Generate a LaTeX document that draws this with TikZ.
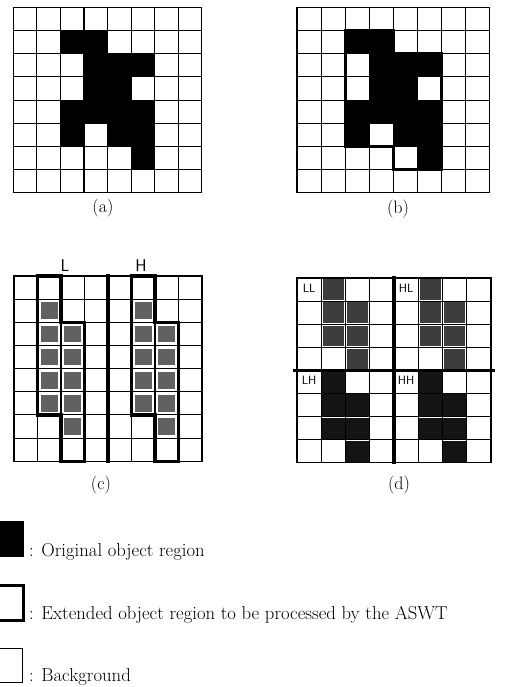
\documentclass[tikz,border=0pt]{standalone}
\usepackage{fontspec}
\begin{document}
\begin{tikzpicture}[x=1pt,y=-1pt,
  gridline/.style={line width=1.1pt, line cap=rect},
  thickline/.style={line width=3.2pt, line join=miter, line cap=rect},
  objcell/.style={fill=black},
  lowcell/.style={fill=black!62},
  midcell/.style={fill=black!76},
  darkcell/.style={fill=black!92},
  caption/.style={font=\fontsize{18}{21}\selectfont, inner sep=0pt},
  bandlabel/.style={font=\sffamily\fontsize{17}{19}\selectfont, inner sep=0pt},
  quadlabel/.style={font=\sffamily\fontsize{12}{14}\selectfont, inner sep=0.5pt, fill=white},
  legendtext/.style={font=\fontsize{18.7}{21}\selectfont, anchor=base west, inner sep=0pt}]
\useasboundingbox (0,0) rectangle (526,687);
\clip (0,0) rectangle (526,687);

% ---------- panel (a)
\begin{scope}[shift={(13.3,7.3)}, x=23.55pt, y=-23.2pt]
  \foreach \c/\r in {2/1,3/1,3/2,4/2,5/2,3/3,4/3,2/4,3/4,4/4,5/4,2/5,4/5,5/5,5/6}
    \fill[objcell] (\c,\r) rectangle ++(1,1);
  \foreach \i in {0,...,8} {
    \draw[gridline] (\i,0) -- (\i,8);
    \draw[gridline] (0,\i) -- (8,\i);
  }
\end{scope}
\node[caption] (capa) at (103,208) {(a)};

% ---------- panel (b)
\begin{scope}[shift={(297,7.3)}, x=24.1pt, y=-23.2pt]
  \foreach \c/\r in {2/1,3/1,3/2,4/2,5/2,3/3,4/3,2/4,3/4,4/4,5/4,2/5,4/5,5/5,5/6}
    \fill[objcell] (\c,\r) rectangle ++(1,1);
  \foreach \i in {0,...,8} {
    \draw[gridline] (\i,0) -- (\i,8);
    \draw[gridline] (0,\i) -- (8,\i);
  }
  \draw[thickline] (2,1) -- (4,1) -- (4,2) -- (6,2) -- (6,7) -- (4,7) -- (4,6) -- (2,6) -- cycle;
\end{scope}
\node[caption] (capb) at (398,209) {(b)};

% ---------- panel (c)
\begin{scope}[shift={(14,276)}, x=23.5pt, y=-23.15pt]
  \foreach \c/\r in {1/1,1/2,1/3,1/4,1/5,2/2,2/3,2/4,2/5,2/6,5/1,5/2,5/3,5/4,5/5,6/2,6/3,6/4,6/5,6/6}
    \fill[lowcell] (\c+0.14,\r+0.14) rectangle (\c+0.86,\r+0.86);
  \foreach \i in {0,...,8} {
    \draw[gridline] (\i,0) -- (\i,8);
    \draw[gridline] (0,\i) -- (8,\i);
  }
  \draw[thickline] (4,0) -- (4,8);
  \draw[thickline] (1,0) -- (2,0) -- (2,2) -- (3,2) -- (3,8) -- (2,8) -- (2,6) -- (1,6) -- cycle;
  \draw[thickline] (5,0) -- (6,0) -- (6,2) -- (7,2) -- (7,8) -- (6,8) -- (6,6) -- (5,6) -- cycle;
\end{scope}
\node[bandlabel] (labL) at (65,266) {L};
\node[bandlabel] (labH) at (141,266) {H};
\node[caption] (capc) at (101,485) {(c)};

% ---------- panel (d)
\begin{scope}[shift={(297,278)}, x=24.25pt, y=-23.1pt]
  \foreach \c/\r in {1/0,1/1,2/1,1/2,2/2,2/3,5/0,5/1,6/1,5/2,6/2,6/3}
    \fill[midcell] (\c+0.06,\r+0.06) rectangle (\c+0.94,\r+0.94);
  \foreach \c/\r in {1/4,1/5,2/5,1/6,2/6,2/7,5/4,5/5,6/5,5/6,6/6,6/7}
    \fill[darkcell] (\c+0.04,\r+0.04) rectangle (\c+0.96,\r+0.96);
  \foreach \i in {0,...,8} {
    \draw[gridline] (\i,0) -- (\i,8);
    \draw[gridline] (0,\i) -- (8,\i);
  }
  \draw[thickline] (4,0) -- (4,8);
  \draw[thickline] (-0.1,4) -- (8.1,4);
  \node[quadlabel] (labLL) at (0.5,0.45) {LL};
  \node[quadlabel] (labHL) at (4.5,0.45) {HL};
  \node[quadlabel] (labLH) at (0.5,4.45) {LH};
  \node[quadlabel] (labHH) at (4.5,4.45) {HH};
\end{scope}
\node[caption] (capd) at (399,485) {(d)};

% ---------- legend
\fill[black] (-2,521) rectangle (24,557);
\node[legendtext] (leg1) at (29,556) {: Original object region};
\draw[line width=3pt] (-4,585) rectangle (23,620);
\node[legendtext] (leg2) at (29,619) {: Extended object region to be processed by the ASWT};
\draw[line width=1pt] (-4,648) rectangle (22,682);
\node[legendtext] (leg3) at (29,681) {: Background};
\end{tikzpicture}
\end{document}
